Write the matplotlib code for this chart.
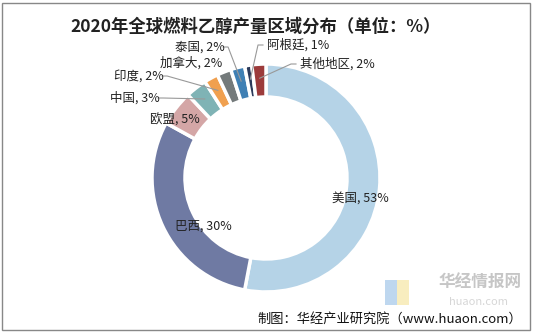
import numpy as np
import matplotlib.pyplot as plt
from matplotlib.patches import Rectangle

plt.rcParams['font.family'] = ['Noto Sans CJK SC', 'DejaVu Sans']

regions = ['美国', '巴西', '欧盟', '中国', '印度', '加拿大', '泰国', '阿根廷', '其他地区']
shares = [53, 30, 5, 3, 2, 2, 2, 1, 2]
colors = ['#b5d3e7', '#6f7aa3', '#d4a6a6', '#7fb3b5', '#f0a04f',
          '#747a7b', '#3f80b4', '#2b3a5a', '#9c3b3b']

# label positions in pixel space (x, y from top), and whether a leader line is drawn
label_pos = [(332, 199), (175, 226), (150, 120), (110, 98), (114, 76),
             (160, 63), (175, 47), (267, 45), (300, 64)]
leader = [False, False, False, True, True, False, True, True, True]

W, H = 536, 335
fig = plt.figure(figsize=(W / 100, H / 100), dpi=100)
ax = fig.add_axes([0, 0, 1, 1])
ax.set_xlim(0, W)
ax.set_ylim(0, H)
ax.axis('off')

cx, cy, R = 266, H - 178, 114
wedges, _ = ax.pie(shares, colors=colors, startangle=90, counterclock=False,
                   center=(cx, cy), radius=R,
                   wedgeprops=dict(width=33, edgecolor='white', linewidth=2.5))
ax.set_xlim(0, W)
ax.set_ylim(0, H)
ax.set_aspect('equal')

for i, w in enumerate(wedges):
    lx, ly = label_pos[i]
    txt = f"{regions[i]}, {shares[i]}%"
    ax.text(lx, H - ly, txt, fontsize=9, ha='left', va='center', color='#222222')
    if leader[i]:
        ang = np.deg2rad((w.theta1 + w.theta2) / 2)
        r = R - 14
        px, py = cx + r * np.cos(ang), cy + r * np.sin(ang)
        tw = 7.6 * (len(regions[i]) * 1.3 + 3.2)
        if lx < cx:
            sx = lx + tw + 4
            ax.plot([sx, sx + 5, px], [H - ly, H - ly, py], color='#999999', lw=0.8)
        else:
            sx = lx - 4
            ax.plot([sx, sx - 5, px], [H - ly, H - ly, py], color='#999999', lw=0.8)

ax.text(256, H - 27, '2020年全球燃料乙醇产量区域分布（单位：%）', fontsize=12.5,
        fontweight='bold', ha='center', va='center', color='#222222')

# watermark
ax.text(480, H - 283, '华经情报网', fontsize=12, fontweight='bold', ha='center',
        va='center', color='#b8b8b8', alpha=0.8)
ax.text(478, H - 302, 'huaon.com', fontsize=8, ha='center', va='center',
        color='#cccccc', alpha=0.8)
ax.add_patch(Rectangle((385, H - 305), 12, 25, color='#7fb0e0', alpha=0.5, lw=0))
ax.add_patch(Rectangle((397, H - 305), 12, 25, color='#f2dc80', alpha=0.5, lw=0))

ax.text(257, H - 319, '制图：华经产业研究院（www.huaon.com）', fontsize=9.5,
        ha='left', va='center', color='#111111')

ax.add_patch(Rectangle((2, H - 330), 528, 327, fill=False, edgecolor='#888888', lw=1))

fig.savefig('out.png', dpi=100)
